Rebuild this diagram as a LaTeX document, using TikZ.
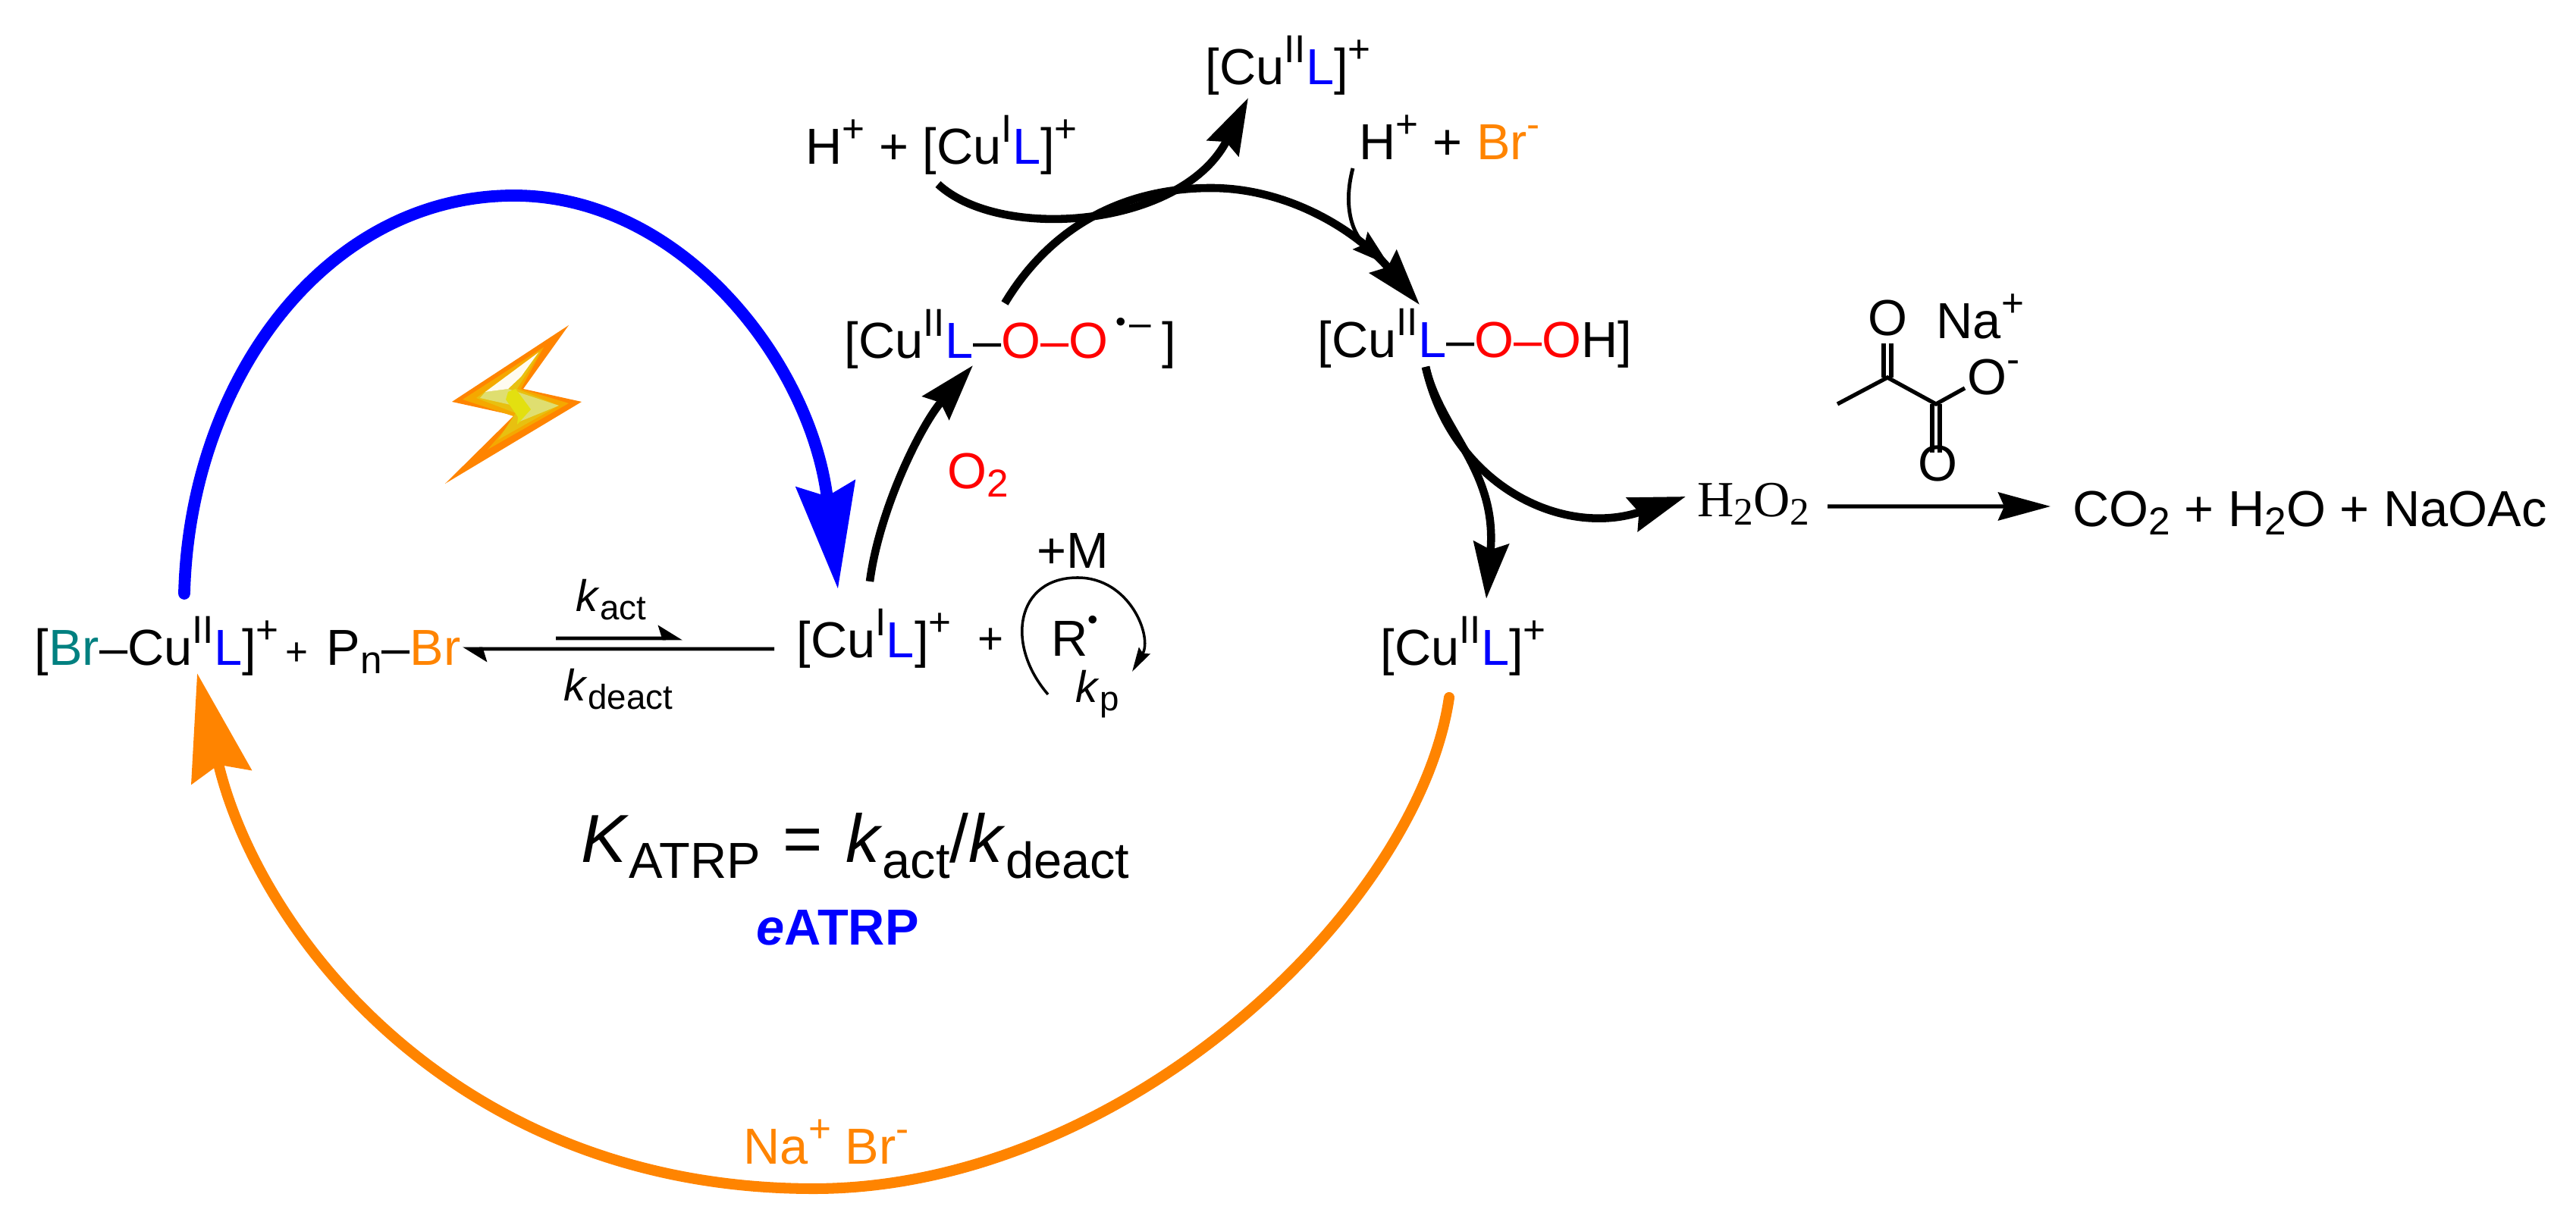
\documentclass[tikz,border=0pt]{standalone}
\usepackage{fontspec}
\setmainfont{Liberation Sans}
\newfontfamily\serifchem{Liberation Serif}
\usetikzlibrary{arrows.meta}
\definecolor{ligblue}{HTML}{0000FF}
\definecolor{bromo}{HTML}{FF8400}
\definecolor{bromoteal}{HTML}{008080}
\definecolor{oxy}{HTML}{FF0000}
\definecolor{boltamber}{HTML}{F5A800}
\definecolor{boltgold}{HTML}{E8C010}
\definecolor{boltpale}{HTML}{DFDE70}
\definecolor{boltlemon}{HTML}{E3E010}
\definecolor{boltwhite}{HTML}{FFFBF0}
\newcommand{\up}[1]{\raisebox{0.29cm}{\fontsize{14.6}{15}\selectfont #1}}
\newcommand{\lo}[1]{\raisebox{-0.11cm}{\fontsize{14.6}{15}\selectfont #1}}
\newcommand{\lig}{\textcolor{ligblue}{L}}
\newcommand{\oxy}[1]{\textcolor{oxy}{#1}}
\newcommand{\rad}{\raisebox{0.35cm}{\fontsize{11}{11}\selectfont •}}
\tikzset{
  chem/.style={inner sep=0pt,anchor=base west,font=\fontsize{19}{21}\selectfont},
  small/.style={inner sep=0pt,anchor=base west,font=\fontsize{16.6}{18}\selectfont},
  atom/.style={inner sep=0pt,font=\fontsize{19}{21}\selectfont},
  bond/.style={line width=1.5pt},
  thinarrow/.style={line width=1.4pt,-{Stealth[length=0.50cm,width=0.30cm,inset=0.07cm]}},
  harp/.style={line width=1.4pt,-{Stealth[harpoon,length=0.28cm,width=0.34cm,inset=0.05cm]}},
  curved/.style={line width=3pt,-{Stealth[length=0.74cm,width=0.46cm,inset=0.09cm]}},
  bigblue/.style={line width=4.5pt,line cap=round,ligblue,-{Stealth[length=1.39cm,width=0.77cm,inset=0.16cm]}},
  bigorange/.style={line width=4pt,line cap=round,bromo,-{Stealth[length=1.40cm,width=0.80cm,inset=0.16cm]}}
}
\begin{document}
\begin{tikzpicture}[x=1cm,y=1cm]
\useasboundingbox (0,0) rectangle (33.97,16.08);

\node[chem] (cuBr) at (0.45,7.30) {[\textcolor{bromoteal}{Br}–Cu\up{II}\lig]\up{+}};
\node[inner sep=0pt,anchor=base west,font=\fontsize{14.6}{15}\selectfont] (plusA) at (3.76,7.30) {+};
\node[chem] (pnBr) at (4.30,7.30) {P\lo{n}–\textcolor{bromo}{Br}};
\node[chem] (cuI) at (10.50,7.40) {[Cu\up{I}\lig]\up{+}};
\node[small] (plusB) at (12.89,7.45) {+};
\node[chem] (radical) at (13.86,7.42) {R\rad};
\node[chem] (monomer) at (13.67,8.58) {+M};
\node[chem] (cuIIa) at (18.20,7.30) {[Cu\up{II}\lig]\up{+}};
\node[chem] (peroxo) at (11.13,11.35) {[Cu\up{II}\lig–\oxy{O–O}\kern0.1cm\rad\kern0.05cm\up{–}\kern0.14cm]};
\node[chem] (hydro) at (17.37,11.36) {[Cu\up{II}\lig–\oxy{O–O}H]};
\node[chem] (cuIItop) at (15.89,14.96) {[Cu\up{II}\lig]\up{+}};
\node[chem] (protonCu) at (10.62,13.91) {H\up{+} + [Cu\up{I}\lig]\up{+}};
\node[chem] (protonBr) at (17.92,13.97) {H\up{+} + \textcolor{bromo}{Br\up{-}}};
\node[chem] (dioxygen) at (12.49,9.63) {\oxy{O\lo{2}}};
\node[chem,font=\fontsize{19}{21}\selectfont\serifchem] (hhoo) at (22.38,9.26) {H\lo{2}O\lo{2}};
\node[chem] (products) at (27.33,9.13) {CO\lo{2} + H\lo{2}O + NaOAc};

\node[small] (kact) at (7.59,8.01) {\textit{k}\raisebox{-0.11cm}{\fontsize{13}{14}\selectfont act}};
\node[small] (kdeact) at (7.43,6.83) {\textit{k}\raisebox{-0.11cm}{\fontsize{13}{14}\selectfont deact}};
\node[small] (kp) at (14.18,6.81) {\textit{k}\raisebox{-0.11cm}{\fontsize{13}{14}\selectfont p}};
\node[inner sep=0pt,anchor=base west,font=\fontsize{25.5}{28}\selectfont] (katrp) at (7.66,4.70) {\textit{K}\raisebox{-0.21cm}{\fontsize{19}{21}\selectfont ATRP}\kern0.05cm\ = \kern0.05cm\textit{k}\raisebox{-0.21cm}{\fontsize{19}{21}\selectfont act}/\textit{k}\raisebox{-0.21cm}{\fontsize{19}{21}\selectfont deact}};
\node[chem,text=ligblue,font=\fontsize{19}{21}\selectfont\bfseries] (eatrp) at (9.97,3.61) {\textit{e}ATRP};
\node[chem,text=bromo] (naBr) at (9.80,0.72) {Na\up{+} Br\up{-}};

\draw[bigblue] ([shift={(1.98,0.95)}]cuBr.base west) .. controls (2.50,11.08) and (4.30,13.50) .. (6.78,13.50) .. controls (9.00,13.50) and (10.70,11.28) .. ([shift={(0.55,0.91)}]cuI.base west);
\draw[bigorange] ([shift={(0.91,-0.42)}]cuIIa.base west) .. controls (18.70,4.08) and (14.80,0.40) .. (10.73,0.40) .. controls (6.00,0.40) and (3.40,3.78) .. ([shift={(2.15,-0.10)}]cuBr.base west);

\draw[curved] ([shift={(0.97,1.01)}]cuI.base west) .. controls (11.60,9.38) and (12.15,10.48) .. ([shift={(1.70,-0.09)}]peroxo.base west);
\draw[curved] ([shift={(2.12,0.73)}]peroxo.base west) .. controls (13.85,13.08) and (14.80,13.60) .. (15.97,13.60) .. controls (17.00,13.60) and (17.90,13.03) .. ([shift={(1.35,0.70)}]hydro.base west);
\draw[curved] ([shift={(1.75,-0.26)}]protonCu.base west) .. controls (13.20,12.88) and (15.60,13.08) .. ([shift={(0.57,-0.17)}]cuIItop.base west);
\draw[thinarrow] ([shift={(-0.08,-0.11)}]protonBr.base west) .. controls (17.70,13.33) and (17.85,12.98) .. ([shift={(0.95,1.22)}]hydro.base west);
\draw[curved] ([shift={(1.43,-0.12)}]hydro.base west) .. controls (19.15,9.68) and (20.60,8.98) .. ([shift={(-0.15,0.27)}]hhoo.base west);
\draw[curved] ([shift={(1.43,-0.12)}]hydro.base west) .. controls (19.00,10.38) and (19.75,9.88) .. ([shift={(1.40,0.88)}]cuIIa.base west);

\draw[harp] ([shift={(3.03,0.36)}]pnBr.base west) -- ([shift={(-1.50,0.26)}]cuI.base west);
\draw[harp] ([shift={(-0.29,0.12)}]cuI.base west) -- ([shift={(1.80,0.22)}]pnBr.base west);
\draw[line width=1pt,-{Stealth[length=0.32cm,width=0.17cm,inset=0.04cm]}] ([shift={(-0.04,-0.50)}]radical.base west) .. controls (13.25,7.58) and (13.40,8.46) .. (14.21,8.46) .. controls (14.90,8.46) and (15.20,7.68) .. ([shift={(1.07,-0.20)}]radical.base west);
\draw[line width=1.5pt,-{Stealth[length=0.69cm,width=0.37cm,inset=0.08cm]}] ([shift={(1.72,0.14)}]hhoo.base west) -- ([shift={(-0.29,0.27)}]products.base west);

\coordinate (cMe) at (24.23,10.75);
\coordinate (cKeto) at (24.89,11.10);
\coordinate (cAcid) at (25.53,10.75);
\node[atom] (oTop) at (24.89,11.88) {O};
\node[atom] (oBot) at (25.55,9.96) {O};
\node[atom] (oMinus) at (26.20,11.10) {O\rlap{\up{-}}};
\node[chem] (naPlus) at (25.53,11.61) {Na\up{+}};
\draw[bond] (cMe) -- (cKeto) -- (cAcid) -- ([shift={(-0.29,-0.14)}]oMinus.center);
\draw[bond,shorten >=0.09cm] ([xshift=-0.05cm]cKeto) -- ([xshift=-0.05cm]cKeto |- oTop.south);
\draw[bond,shorten >=0.09cm] ([xshift=0.05cm]cKeto) -- ([xshift=0.05cm]cKeto |- oTop.south);
\draw[bond,shorten >=-0.09cm] ([xshift=-0.05cm]cAcid) -- ([xshift=-0.05cm]cAcid |- oBot.north);
\draw[bond,shorten >=-0.09cm] ([xshift=0.05cm]cAcid) -- ([xshift=0.05cm]cAcid |- oBot.north);

\fill[bromo] (7.50,11.79) -- (5.96,10.78) -- (6.78,10.60) -- (5.87,9.70) -- (7.67,10.78) -- (6.90,10.95) -- cycle;
\fill[boltamber] (7.17,11.50) -- (6.10,10.81) -- (6.80,10.58) -- (6.43,10.15) -- (7.50,10.76) -- (6.87,10.95) -- cycle;
\fill[boltgold] (7.13,11.45) -- (6.28,10.83) -- (6.80,10.63) -- (6.57,10.28) -- (7.37,10.73) -- (6.82,10.95) -- cycle;
\fill[boltpale] (6.40,10.91) -- (6.70,10.95) -- (7.37,10.73) -- (6.83,10.51) -- (7.00,10.68) -- (6.33,10.83) -- cycle;
\fill[boltlemon] (6.70,10.91) -- (6.80,10.95) -- (7.00,10.68) -- (6.82,10.48) -- (6.83,10.58) -- (6.67,10.81) -- cycle;
\fill[boltwhite] (7.10,11.43) -- (6.87,11.11) -- (6.70,10.95) -- (6.40,10.91) -- cycle;
\end{tikzpicture}
\end{document}
